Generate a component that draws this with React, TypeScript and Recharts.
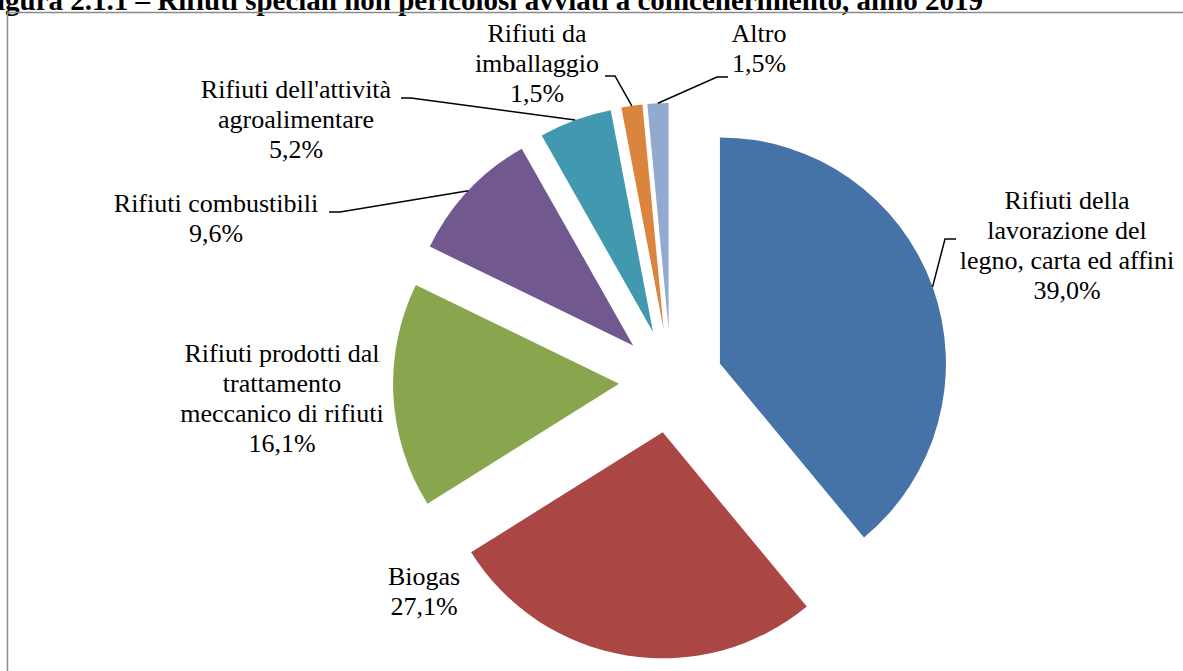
import { PieChart, Pie, Sector } from 'recharts';

const categories = [
  'Rifiuti della lavorazione del legno, carta ed affini',
  'Biogas',
  'Rifiuti prodotti dal trattamento meccanico di rifiuti',
  'Rifiuti combustibili',
  "Rifiuti dell'attività agroalimentare",
  'Rifiuti da imballaggio',
  'Altro',
];
const shares = [39.0, 27.1, 16.1, 9.6, 5.2, 1.5, 1.5];
const wrapped = [
  ['Rifiuti della', 'lavorazione del', 'legno, carta ed affini'],
  ['Biogas'],
  ['Rifiuti prodotti dal', 'trattamento', 'meccanico di rifiuti'],
  ['Rifiuti combustibili'],
  ["Rifiuti dell'attività", 'agroalimentare'],
  ['Rifiuti da', 'imballaggio'],
  ['Altro'],
];
const colors = ['#4572A7', '#AA4643', '#89A54E', '#71588F', '#4198AF', '#DB843D', '#93A9CF'];

const data = categories.map((name, i) => ({ name, value: shares[i] }));

// where Excel put each label (centre x, first baseline) and the elbow of its leader
const labelPos: { x: number; y: number; leader?: number[][] }[] = [
  { x: 1067, y: 209, leader: [[956, 239], [945, 239]] },
  { x: 424, y: 585 },
  { x: 282, y: 362 },
  { x: 216, y: 212, leader: [[329, 212], [340, 212]] },
  { x: 296, y: 98, leader: [[401, 98], [411, 98]] },
  { x: 537, y: 42, leader: [[605, 76], [615, 76]] },
  { x: 759, y: 42, leader: [[728, 77], [717, 77]] },
];

const RAD = Math.PI / 180;
const EXPLODE = 52;
const FONT = '"Liberation Serif", "Times New Roman", serif';

const fmt = (v: number) => v.toFixed(1).replace('.', ',') + '%';

function ExplodedSlice(props: any) {
  const { cx, cy, midAngle, startAngle, endAngle, outerRadius, index } = props;
  const ox = cx + EXPLODE * Math.cos(-midAngle * RAD);
  const oy = cy + EXPLODE * Math.sin(-midAngle * RAD);
  const ex = ox + outerRadius * Math.cos(-midAngle * RAD);
  const ey = oy + outerRadius * Math.sin(-midAngle * RAD);
  const pos = labelPos[index];
  const lines = [...wrapped[index], fmt(shares[index])];
  return (
    <g>
      <Sector
        cx={ox}
        cy={oy}
        innerRadius={0}
        outerRadius={outerRadius}
        startAngle={startAngle}
        endAngle={endAngle}
        fill={colors[index]}
        stroke="none"
      />
      {pos.leader && (
        <polyline
          points={[...pos.leader, [ex, ey]].map((p) => p.join(',')).join(' ')}
          fill="none"
          stroke="#000"
          strokeWidth={1.5}
        />
      )}
      <text x={pos.x} y={pos.y} textAnchor="middle" fontFamily={FONT} fontSize={26} fill="#000">
        {lines.map((l, i) => (
          <tspan key={i} x={pos.x} dy={i === 0 ? 0 : 30}>
            {l}
          </tspan>
        ))}
      </text>
    </g>
  );
}

export default function App() {
  return (
    <div style={{ position: 'absolute', left: 0, top: 0, width: 1183, height: 671, background: '#fff' }}>
      <svg width={1183} height={671} style={{ position: 'absolute', left: 0, top: 0 }}>
        <text x={983} y={10} textAnchor="end" fontFamily={FONT} fontWeight="bold" fontSize={29} fill="#000">
          Figura 2.1.1 – Rifiuti speciali non pericolosi avviati a coincenerimento, anno 2019
        </text>
        <path d="M7.5,671 L7.5,12.5 L1183,12.5" fill="none" stroke="#8a8a8a" strokeWidth={1.5} />
      </svg>
      <div style={{ position: 'absolute', left: 0, top: 0 }}>
        <PieChart width={1183} height={671}>
          <Pie
            data={data}
            dataKey="value"
            nameKey="name"
            cx={666}
            cy={376}
            outerRadius={226}
            startAngle={90}
            endAngle={-270}
            fill="transparent"
            stroke="none"
            label={ExplodedSlice}
            labelLine={false}
            isAnimationActive={false}
          />
        </PieChart>
      </div>
    </div>
  );
}
